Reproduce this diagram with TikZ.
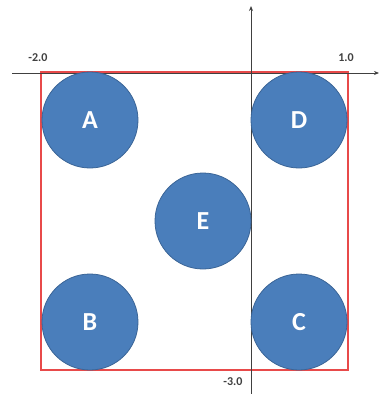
\documentclass[tikz,border=0pt]{standalone}
\usepackage{fontspec}
\setmainfont{Carlito}
\usetikzlibrary{arrows.meta}
\definecolor{cfill}{HTML}{4A7EBB}
\definecolor{cline}{HTML}{3A6496}
\definecolor{rbox}{HTML}{E84A4A}
\definecolor{axc}{HTML}{404040}
\tikzset{
  ball/.style={circle, fill=cfill, draw=cline, line width=0.8pt, minimum size=96pt, inner sep=0pt,
    text=white, font=\fontsize{26}{26}\selectfont\bfseries},
  axis/.style={draw=axc, line width=0.9pt, -{Stealth[length=5pt,width=4pt]}},
  lbl/.style={text=axc, font=\fontsize{12}{12}\selectfont\bfseries, inner sep=0pt}
}
\begin{document}
\begin{tikzpicture}[x=1pt,y=-1pt]
\useasboundingbox (0,0) rectangle (380,394);
\coordinate (xl) at (12,73);
\coordinate (xr) at (379,73);
\coordinate (yb) at (251,394);
\coordinate (yt) at (251,6);
\draw[rbox, line width=1.3pt] (41,72) rectangle (348,370);
\draw[axis] (xl) -- (xr);
\draw[axis] (yb) -- (yt);
\node[ball] (A) at (90,120) {A};
\node[ball] (D) at (299,120) {D};
\node[ball] (E) at (203,221) {E};
\node[ball] (B) at (90,322) {B};
\node[ball] (C) at (299,322) {C};
\node[lbl] (m2) at (38,58) {-2.0};
\node[lbl] (p1) at (346,58) {1.0};
\node[lbl] (m3) at (233,382) {-3.0};
\end{tikzpicture}
\end{document}
